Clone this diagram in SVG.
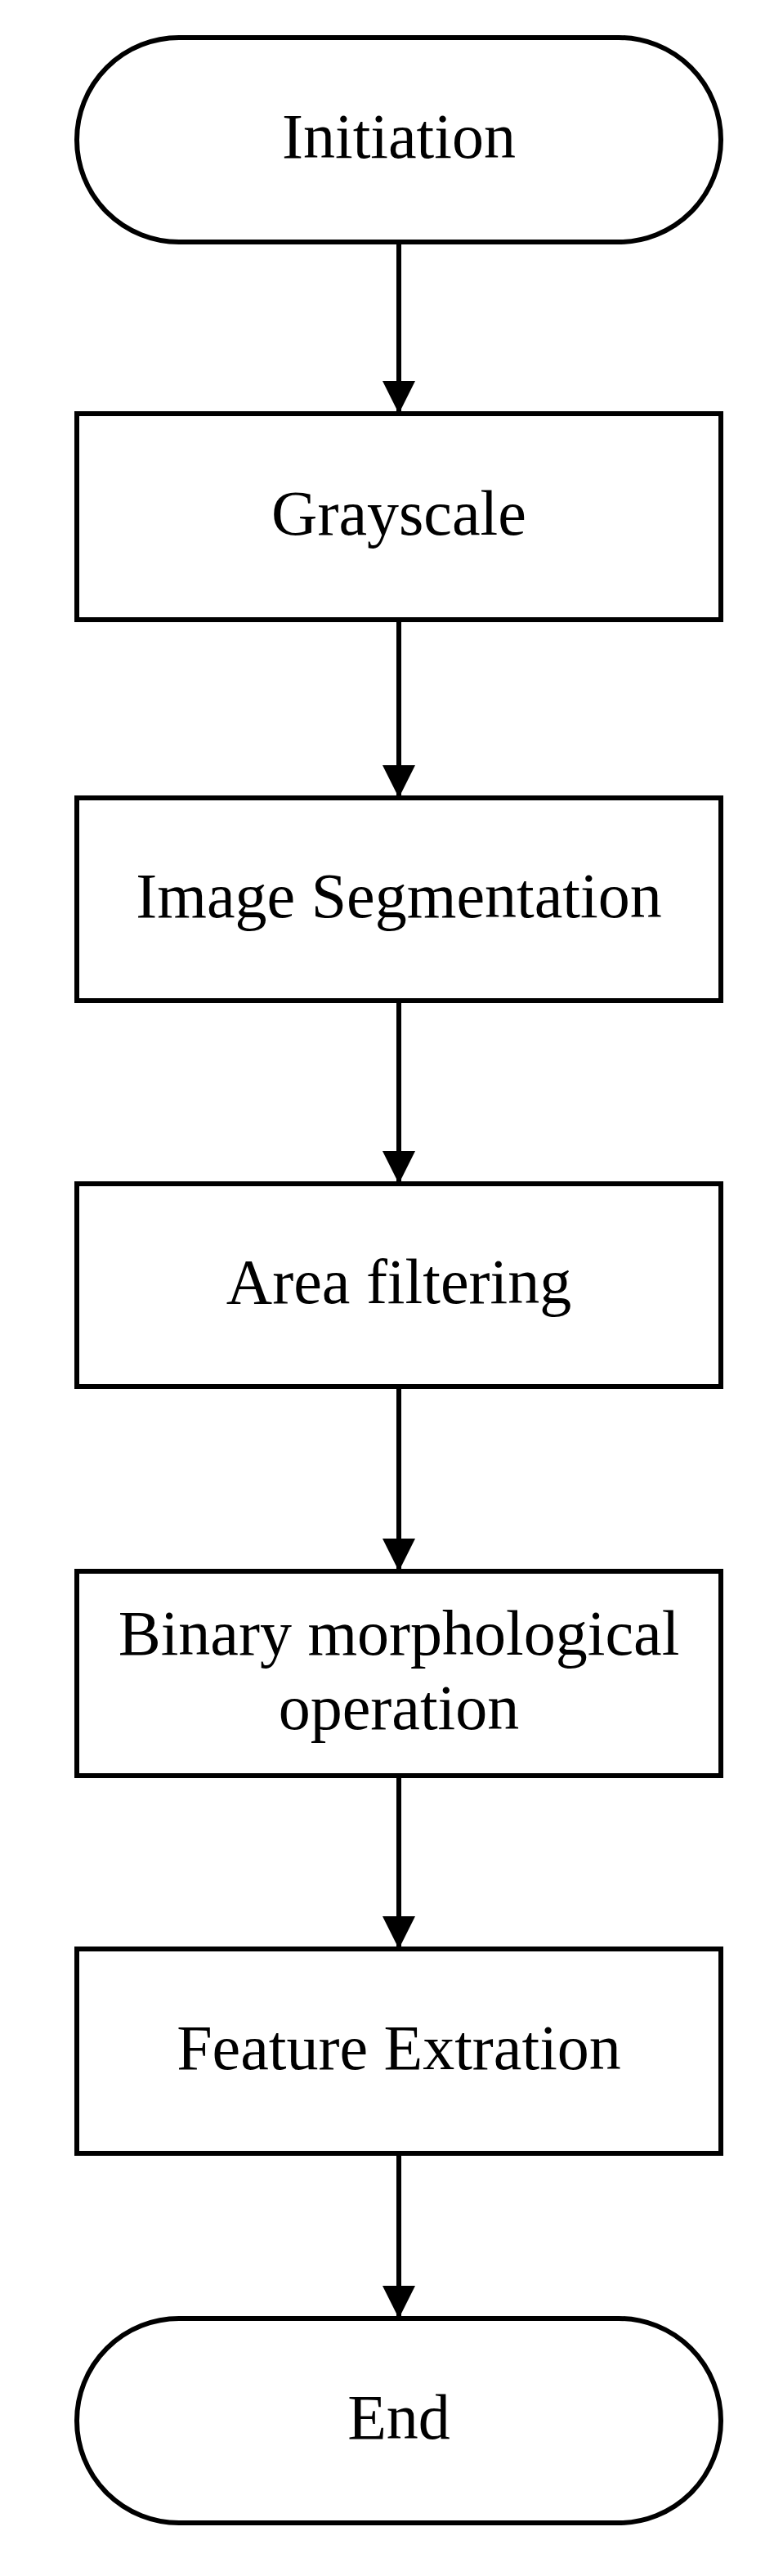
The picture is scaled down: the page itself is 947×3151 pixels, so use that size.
<svg xmlns="http://www.w3.org/2000/svg" width="947" height="3151" viewBox="0 0 947 3151">
<style>
.s{fill:#fff;stroke:#000;stroke-width:6}
.t{font-family:"Liberation Serif","Times New Roman",serif;font-size:78px;fill:#000;text-anchor:middle}
.c{stroke:#000;stroke-width:6;fill:none}
</style>
<defs>
<marker id="a" markerUnits="userSpaceOnUse" markerWidth="40" markerHeight="40" refX="40" refY="20" orient="auto">
<path d="M0,0 L40,20 L0,40 Z" fill="#000"/>
</marker>
</defs>
<rect width="947" height="3151" fill="#fff"/>
<g id="connectors">
<line class="c" x1="488" y1="296" x2="488" y2="506" marker-end="url(#a)"/>
<line class="c" x1="488" y1="758" x2="488" y2="976" marker-end="url(#a)"/>
<line class="c" x1="488" y1="1224" x2="488" y2="1448" marker-end="url(#a)"/>
<line class="c" x1="488" y1="1696" x2="488" y2="1922" marker-end="url(#a)"/>
<line class="c" x1="488" y1="2172" x2="488" y2="2384" marker-end="url(#a)"/>
<line class="c" x1="488" y1="2634" x2="488" y2="2836" marker-end="url(#a)"/>
</g>
<g id="initiation"><rect class="s" x="94" y="46" width="788" height="250" rx="125"/><text class="t" x="488" y="193">Initiation</text></g>
<g id="grayscale"><rect class="s" x="94" y="506" width="788" height="252"/><text class="t" x="488" y="654">Grayscale</text></g>
<g id="segmentation"><rect class="s" x="94" y="976" width="788" height="248"/><text class="t" x="488" y="1122">Image Segmentation</text></g>
<g id="area"><rect class="s" x="94" y="1448" width="788" height="248"/><text class="t" x="488" y="1594">Area filtering</text></g>
<g id="binary"><rect class="s" x="94" y="1922" width="788" height="250"/><text class="t" x="488" y="2024">Binary morphological</text><text class="t" x="488" y="2115">operation</text></g>
<g id="feature"><rect class="s" x="94" y="2384" width="788" height="250"/><text class="t" x="488" y="2531">Feature Extration</text></g>
<g id="end"><rect class="s" x="94" y="2836" width="788" height="250" rx="125"/><text class="t" x="488" y="2983">End</text></g>
</svg>
